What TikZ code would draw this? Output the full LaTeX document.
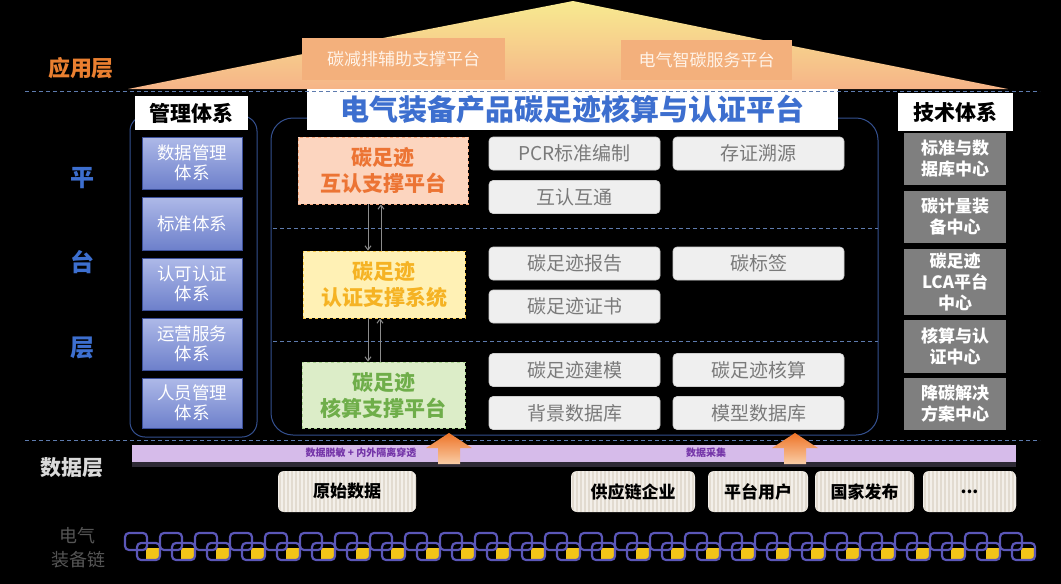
\documentclass[tikz,border=0pt]{standalone}
\usepackage{fontspec}
\setmainfont{Noto Sans CJK SC}
\usetikzlibrary{calc,arrows.meta}
\definecolor{bgblack}{HTML}{000000}
\definecolor{roofTop}{HTML}{F7EA90}
\definecolor{roofBot}{HTML}{F6B488}
\definecolor{roofBox}{HTML}{F3B07C}
\definecolor{roofTxt}{HTML}{FFF3E8}
\definecolor{appOrange}{HTML}{EA7F30}
\definecolor{lineBlue}{HTML}{5E7BAE}
\definecolor{frameBlue}{HTML}{34508F}
\definecolor{titleBlue}{HTML}{3D6FCF}
\definecolor{mgTop}{HTML}{AEB9E8}
\definecolor{mgBot}{HTML}{6D80CB}
\definecolor{mgBorder}{HTML}{3B4F9A}
\definecolor{orFill}{HTML}{FCD5BF}
\definecolor{orLine}{HTML}{F3A47A}
\definecolor{orTxt}{HTML}{EC7434}
\definecolor{yeFill}{HTML}{FFF1B5}
\definecolor{yeLine}{HTML}{F7C948}
\definecolor{yeTxt}{HTML}{F5B324}
\definecolor{grFill}{HTML}{DCEDC8}
\definecolor{grLine}{HTML}{A9D18E}
\definecolor{grTxt}{HTML}{6FAE4A}
\definecolor{itemFill}{HTML}{EFEFEF}
\definecolor{itemLine}{HTML}{CFCFCF}
\definecolor{itemTxt}{HTML}{7A7A7A}
\definecolor{techFill}{HTML}{7F7F7F}
\definecolor{barFill}{HTML}{D6BBEA}
\definecolor{barTxt}{HTML}{7434A8}
\definecolor{barShadow}{HTML}{2E2A35}
\definecolor{arrTop}{HTML}{EE7428}
\definecolor{arrBot}{HTML}{F9CDA6}
\definecolor{dataFill}{HTML}{F3EFE9}
\definecolor{stripeCol}{HTML}{E2DBD0}
\definecolor{chainBlue}{HTML}{5B57B8}
\definecolor{chainYel}{HTML}{F2C418}
\definecolor{chainTxt}{HTML}{555555}
\definecolor{dataLayer}{HTML}{DADADA}
\definecolor{linkGray}{HTML}{8C8C8C}
\tikzset{
  rooflabel/.style={fill=roofBox, text=roofTxt, inner sep=0pt, font=\fontsize{17}{20}\selectfont},
  headbox/.style={fill=white, inner sep=0pt, font=\bfseries\fontsize{21}{24}\selectfont, text=black},
  mgbox/.style={top color=mgTop, bottom color=mgBot, draw=mgBorder, line width=0.6pt, inner sep=0pt, align=center, text=white, minimum width=100pt, font=\fontsize{17.5}{20}\selectfont},
  supbox/.style={dashed, line width=0.8pt, inner sep=0pt, align=center, font=\bfseries\fontsize{21}{26}\selectfont},
  itembox/.style={fill=itemFill, draw=itemLine, line width=0.6pt, rounded corners=4pt, inner sep=0pt, minimum width=171pt, minimum height=33pt, text=itemTxt, font=\fontsize{19}{22}\selectfont},
  techbox/.style={fill=techFill, inner sep=0pt, align=center, text=white, minimum width=102pt, font=\bfseries\fontsize{17}{21}\selectfont},
  databox/.style={fill=dataFill, rounded corners=6pt, inner sep=0pt, minimum height=41pt, text=black, font=\bfseries\fontsize{17}{20}\selectfont,
    path picture={\foreach \k in {2,6,...,150}{\draw[stripeCol, line width=1.6pt] ([xshift=\k pt]path picture bounding box.north west) -- ([xshift=\k pt]path picture bounding box.south west);}}},
  layerlabel/.style={inner sep=0pt, font=\bfseries\fontsize{22}{26}\selectfont},
  sepline/.style={lineBlue, dashed, dash pattern=on 4pt off 3pt, line width=0.8pt},
  frame/.style={draw=frameBlue, line width=1pt},
  linkarrow/.style={draw=linkGray, line width=1pt, -{Straight Barb[length=4pt,width=6pt]}},
  bartext/.style={inner sep=0pt, text=barTxt, font=\bfseries\fontsize{10}{12}\selectfont},
}
\begin{document}
\begin{tikzpicture}[x=1pt,y=-1pt]
\useasboundingbox (0,0) rectangle (1061,584);
\fill[bgblack] (0,0) rectangle (1061,584);

% roof
\shade[top color=roofTop, bottom color=roofBot] (128,89) -- (383,38) -- (573,1) -- (763,40) -- (1008,89) -- cycle;
\node[rooflabel, minimum width=203pt, minimum height=42pt] (r1) at (403.5,59) {碳减排辅助支撑平台};
\node[rooflabel, minimum width=171pt, minimum height=40pt] (r2) at (706.5,60) {电气智碳服务平台};
\node[layerlabel, text=appOrange] (app) at (81,68) {应用层};

% containers
\draw[frame, rounded corners=15pt] (130,116) rectangle (257,437);
\draw[frame, rounded corners=22pt] (271,118) rectangle (878,435);

% headers
\node[fill=white, inner sep=0pt, minimum width=531pt, minimum height=41pt, text=titleBlue, font=\bfseries\fontsize{29}{32}\selectfont] (title) at (572.5,109.5) {电气装备产品碳足迹核算与认证平台};
\node[headbox, minimum width=113pt, minimum height=34pt] (mg) at (191.5,113) {管理体系};
\node[headbox, minimum width=115pt, minimum height=38pt] (tech) at (955.5,112) {技术体系};

% separator lines
\draw[sepline] (25,91) -- (1040,91);
\draw[sepline] (25,440) -- (1040,440);
\draw[sepline] (273,228) -- (878,228);
\draw[sepline] (273,341) -- (878,341);

% platform layer labels
\node[layerlabel, text=titleBlue, font=\bfseries\fontsize{24}{26}\selectfont] (p1) at (82,178) {平};
\node[layerlabel, text=titleBlue, font=\bfseries\fontsize{24}{26}\selectfont] (p2) at (82,262) {台};
\node[layerlabel, text=titleBlue, font=\bfseries\fontsize{24}{26}\selectfont] (p3) at (82,348) {层};

% management boxes
\node[mgbox, minimum height=52pt] (m1) at (192,163) {数据管理\\体系};
\node[mgbox, minimum height=53pt] (m2) at (192,223.5) {标准体系};
\node[mgbox, minimum height=52pt] (m3) at (192,284) {认可认证\\体系};
\node[mgbox, minimum height=52pt] (m4) at (192,344) {运营服务\\体系};
\node[mgbox, minimum height=50pt] (m5) at (192,403) {人员管理\\体系};

% support boxes
\node[supbox, fill=orFill, draw=orLine, text=orTxt, minimum width=170pt, minimum height=67pt] (s1) at (383,170.5) {碳足迹\\互认支撑平台};
\node[supbox, fill=yeFill, draw=yeLine, text=yeTxt, minimum width=162pt, minimum height=67pt] (s2) at (384,284.5) {碳足迹\\认证支撑系统};
\node[supbox, fill=grFill, draw=grLine, text=grTxt, minimum width=163pt, minimum height=66pt] (s3) at (383.5,395) {碳足迹\\核算支撑平台};

\draw[linkarrow] ([xshift=-15pt]s1.south) -- ([xshift=-16pt]s2.north);
\draw[linkarrow] ([xshift=-3pt]s2.north) -- ([xshift=-2pt]s1.south);
\draw[linkarrow] ([xshift=-16pt]s2.south) -- ([xshift=-15.5pt]s3.north);
\draw[linkarrow] ([xshift=-3.5pt]s3.north) -- ([xshift=-4pt]s2.south);

% items
\node[itembox] (i1) at (574.5,153.5) {PCR标准编制};
\node[itembox] (i2) at (758.5,153.5) {存证溯源};
\node[itembox] (i3) at (574.5,197) {互认互通};
\node[itembox] (i4) at (574.5,263.5) {碳足迹报告};
\node[itembox] (i5) at (758.5,263.5) {碳标签};
\node[itembox] (i6) at (574.5,306.5) {碳足迹证书};
\node[itembox] (i7) at (574.5,370) {碳足迹建模};
\node[itembox] (i8) at (758.5,370) {碳足迹核算};
\node[itembox] (i9) at (574.5,413) {背景数据库};
\node[itembox] (i10) at (758.5,413) {模型数据库};

% tech boxes
\node[techbox, minimum height=52pt] (t1) at (955,159) {标准与数\\据库中心};
\node[techbox, minimum height=52pt] (t2) at (955,217) {碳计量装\\备中心};
\node[techbox, minimum height=66pt] (t3) at (955,282) {碳足迹\\LCA平台\\中心};
\node[techbox, minimum height=53pt] (t4) at (955,346.5) {核算与认\\证中心};
\node[techbox, minimum height=52pt] (t5) at (955,404) {降碳解决\\方案中心};

% data layer bar
\fill[barShadow] (132,460) rectangle (1016,467);
\fill[barFill] (132,445) rectangle (1016,462);
\node[bartext] (b1) at (361,452.5) {数据脱敏 + 内外隔离穿透};
\node[bartext] (b2) at (706,452.5) {数据采集};

% up arrows
\foreach \ax in {449,795}{
  \shade[top color=arrTop, bottom color=arrBot] (\ax,433) -- (\ax+23,448) -- (\ax+11,448) -- (\ax+11,464) -- (\ax-11,464) -- (\ax-11,448) -- (\ax-23,448) -- cycle;
}

\node[layerlabel, text=dataLayer, font=\bfseries\fontsize{21}{24}\selectfont] (dl) at (72,468) {数据层};

% data boxes
\node[databox, minimum width=138pt] (d1) at (347,491.5) {原始数据};
\node[databox, minimum width=124pt] (d2) at (633,491.5) {供应链企业};
\node[databox, minimum width=100pt] (d3) at (758,491.5) {平台用户};
\node[databox, minimum width=99pt] (d4) at (864.5,491.5) {国家发布};
\node[databox, minimum width=93pt] (d5) at (969.5,491.5) {...};

% chain label
\node[inner sep=0pt, align=center, text=chainTxt, font=\fontsize{18}{24}\selectfont] (cl) at (78,548) {电气\\装备链};

% chain
\begin{scope}
\clip (120,525) rectangle (1037,570);
\foreach \i in {0,...,25}{
  \pgfmathsetmacro{\xa}{125+35*\i}
  \fill[chainYel] (\xa+21,548) rectangle (\xa+34,559);
  \draw[chainBlue, line width=2.2pt, rounded corners=4pt] (\xa+12,543) rectangle (\xa+35,560);
  \draw[chainBlue, line width=2.2pt, rounded corners=4pt] (\xa,533) rectangle (\xa+22,550);
}
\end{scope}
\end{tikzpicture}
\end{document}
